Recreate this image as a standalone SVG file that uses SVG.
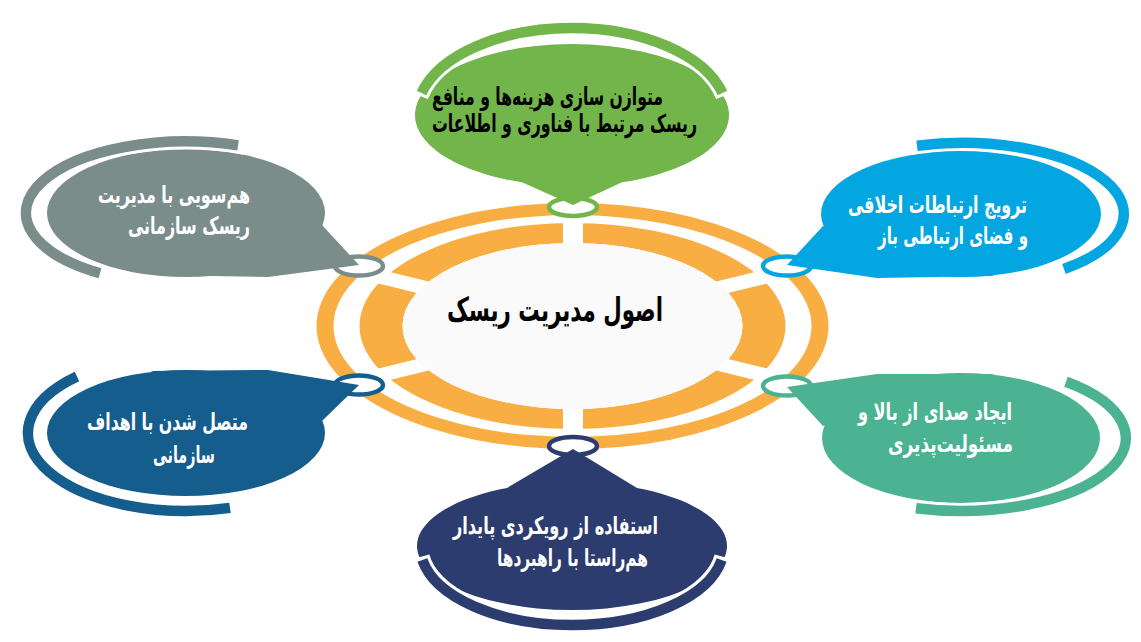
<svg xmlns="http://www.w3.org/2000/svg" width="1141" height="642" viewBox="0 0 1141 642">
<style>
.t{font-family:"DejaVu Sans",sans-serif;font-weight:bold;font-size:24px}
.w{fill:#fff}
.k{fill:#000}
.arc{fill:none;stroke-width:10.5}
.halo{fill:none;stroke:#fff;stroke-width:16.5}
.ring{fill:#fff;stroke-width:4.5}
.gap{stroke:#fff;stroke-width:14}
</style>
<rect width="1141" height="642" fill="#fff"/>
<g id="hub">
<path fill="#F9AE43" fill-rule="evenodd" d="M316.5,326 a256,123 0 1 0 512,0 a256,123 0 1 0 -512,0 Z M333.5,326 a239,111 0 1 0 478,0 a239,111 0 1 0 -478,0 Z"/>
<path fill="#F9AE43" fill-rule="evenodd" d="M359.5,326 a213,103 0 1 0 426,0 a213,103 0 1 0 -426,0 Z M402.5,326 a170,83 0 1 0 340,0 a170,83 0 1 0 -340,0 Z"/>
<line class="gap" style="stroke-width:20" x1="573" y1="216" x2="573" y2="250"/>
<line class="gap" style="stroke-width:20" x1="573" y1="402" x2="573" y2="436"/>
<line class="gap" x1="715" y1="289" x2="772" y2="275"/>
<line class="gap" x1="715" y1="363" x2="772" y2="377"/>
<line class="gap" x1="430" y1="289" x2="373" y2="275"/>
<line class="gap" x1="430" y1="363" x2="373" y2="377"/>
<ellipse cx="572.5" cy="326" rx="170" ry="83" fill="#FAFAFA"/>
<text class="t k" style="font-size:33px" x="447" y="321" textLength="216" lengthAdjust="spacingAndGlyphs">اصول مدیریت ریسک</text>
</g>
<g id="connectors">
<ellipse class="ring" stroke="#72B54A" cx="573" cy="207" rx="24" ry="9"/>
<ellipse class="ring" stroke="#7B8D8A" cx="359" cy="266" rx="24" ry="9.5"/>
<ellipse class="ring" stroke="#04A6E1" cx="787" cy="266" rx="24" ry="9.5"/>
<ellipse class="ring" stroke="#145D8D" cx="359" cy="385" rx="24" ry="9.5"/>
<ellipse class="ring" stroke="#4BB391" cx="787" cy="386" rx="24" ry="9.5"/>
<ellipse class="ring" stroke="#2C3C6F" cx="573" cy="446" rx="24" ry="9"/>
</g>
<g id="node-top" fill="#72B54A">
<path d="M622,182.3 A157,71 0 1 0 522,182.3 L573,205 Z"/>
<path class="halo" d="M420.2,96 A155.5,87 0 0 1 723.8,96"/>
<path class="arc" stroke="#72B54A" d="M421.5,93 A155.5,87 0 0 1 722.5,93"/>
<text class="t k" style="font-size:25px" x="432" y="105" textLength="231" lengthAdjust="spacingAndGlyphs">متوازن سازی هزینه‌ها و منافع</text>
<text class="t k" style="font-size:25px" x="432" y="132" textLength="265" lengthAdjust="spacingAndGlyphs">ریسک مرتبط با فناوری و اطلاعات</text>
</g>
<g id="node-upper-left" fill="#7B8D8A">
<ellipse cx="186" cy="213" rx="139" ry="64"/>
<polygon points="322,225 359,265 268,277 150,275"/>
<path class="halo" d="M244.6,146.5 A160,71.5 0 0 0 94.2,271.6"/>
<path class="arc" stroke="#7B8D8A" d="M238.1,145.4 A160,71.5 0 0 0 100,273.3"/>
<text class="t w" x="98" y="203" textLength="152" lengthAdjust="spacingAndGlyphs">هم‌سویی با مدیریت</text>
<text class="t w" x="128" y="234" textLength="122" lengthAdjust="spacingAndGlyphs">ریسک سازمانی</text>
</g>
<g id="node-upper-right" fill="#04A6E1">
<ellipse cx="961" cy="214" rx="140" ry="63"/>
<polygon points="823,226 787,265 877,278 995,276"/>
<path class="halo" d="M910.3,146.6 A161.5,71 0 0 1 1058.3,271.9"/>
<path class="arc" stroke="#04A6E1" d="M917,145.7 A161.5,71 0 0 1 1064,269"/>
<text class="t w" x="848" y="213" textLength="179" lengthAdjust="spacingAndGlyphs">ترویج ارتباطات اخلاقی</text>
<text class="t w" x="878" y="244" textLength="150" lengthAdjust="spacingAndGlyphs">و فضای ارتباطی باز</text>
</g>
<g id="node-lower-left" fill="#145D8D">
<ellipse cx="186" cy="433" rx="139" ry="63"/>
<polygon points="322,421 359,385 268,370 150,371"/>
<path class="halo" d="M82,374.3 A158,78 0 0 0 223.4,508.8"/>
<path class="arc" stroke="#145D8D" d="M77,376.5 A158,78 0 0 0 230,507.9"/>
<text class="t w" x="87" y="430" textLength="161" lengthAdjust="spacingAndGlyphs">متصل شدن با اهداف</text>
<text class="t w" x="153" y="463" textLength="62" lengthAdjust="spacingAndGlyphs">سازمانی</text>
</g>
<g id="node-lower-right" fill="#4BB391">
<ellipse cx="961" cy="438" rx="139" ry="65"/>
<polygon points="823,426 787,387 877,374 995,374"/>
<path class="halo" d="M1060.3,379.7 A165,73 0 0 1 909.2,507.3"/>
<path class="arc" stroke="#4BB391" d="M1066,381.7 A165,73 0 0 1 916,508.2"/>
<text class="t w" x="858" y="420" textLength="154" lengthAdjust="spacingAndGlyphs">ایجاد صدای از بالا و</text>
<text class="t w" x="888" y="452" textLength="125" lengthAdjust="spacingAndGlyphs">مسئولیت‌پذیری</text>
</g>
<g id="node-bottom" fill="#2C3C6F">
<path d="M507,487.9 A155,64 0 1 0 637,487.9 L573,449 Z"/>
<path class="halo" d="M722.6,556.6 A152,79 0 0 1 421.4,556.6"/>
<path class="arc" stroke="#2C3C6F" d="M721.6,560 A152,79 0 0 1 422.4,560"/>
<text class="t w" x="453" y="534" textLength="205" lengthAdjust="spacingAndGlyphs">استفاده از رویکردی پایدار</text>
<text class="t w" x="497" y="566" textLength="151" lengthAdjust="spacingAndGlyphs">هم‌راستا با راهبردها</text>
</g>
</svg>
